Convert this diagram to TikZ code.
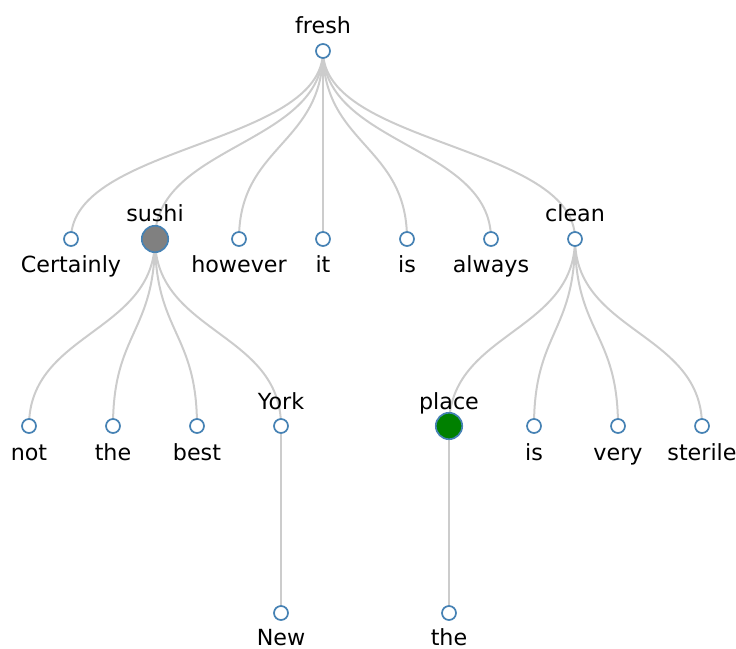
\documentclass[tikz,border=0pt]{standalone}
\usepackage{fontspec}
\setmainfont{DejaVu Sans}
\usetikzlibrary{backgrounds}

\definecolor{steel}{HTML}{4682B4}
\definecolor{linkgray}{HTML}{CCCCCC}
\definecolor{sushigray}{HTML}{808080}
\definecolor{placegreen}{HTML}{008000}

\tikzset{
  dot/.style={circle,draw=steel,fill=white,line width=0.042cm,minimum size=0.35cm,inner sep=0pt},
  bigdot/.style={dot,minimum size=0.66cm},
  word/.style={anchor=base,inner sep=0pt,font=\fontsize{15.8}{18}\selectfont},
  link/.style={draw=linkgray,line width=0.05cm},
}

\begin{document}
\begin{tikzpicture}[x=0.025cm,y=-0.025cm]
        \useasboundingbox (0,0) rectangle (736,649);
        % root
        \node[dot] (fresh) at (323,51) {};
        \node[word] (w-fresh) at (323,34) {fresh};
        % first level
        \node[dot] (certainly) at (71,239) {};
        \node[bigdot,fill=sushigray] (sushi) at (155,239) {};
        \node[dot] (however) at (239,239) {};
        \node[dot] (it) at (323,239) {};
        \node[dot] (is1) at (407,239) {};
        \node[dot] (always) at (491,239) {};
        \node[dot] (clean) at (575,239) {};
        \node[word] (w-certainly) at (71,273) {Certainly};
        \node[word] (w-sushi) at (155,222) {sushi};
        \node[word] (w-however) at (239,273) {however};
        \node[word] (w-it) at (323,273) {it};
        \node[word] (w-is1) at (407,273) {is};
        \node[word] (w-always) at (491,273) {always};
        \node[word] (w-clean) at (575,222) {clean};
        % second level
        \node[dot] (not) at (29,426) {};
        \node[dot] (the1) at (113,426) {};
        \node[dot] (best) at (197,426) {};
        \node[dot] (york) at (281,426) {};
        \node[bigdot,fill=placegreen] (place) at (449,426) {};
        \node[dot] (is2) at (534,426) {};
        \node[dot] (very) at (618,426) {};
        \node[dot] (sterile) at (702,426) {};
        \node[word] (w-not) at (29,460) {not};
        \node[word] (w-the1) at (113,460) {the};
        \node[word] (w-best) at (197,460) {best};
        \node[word] (w-york) at (281,409) {York};
        \node[word] (w-place) at (449,409) {place};
        \node[word] (w-is2) at (534,460) {is};
        \node[word] (w-very) at (618,460) {very};
        \node[word] (w-sterile) at (702,460) {sterile};
        % third level
        \node[dot] (new) at (281,613) {};
        \node[dot] (the2) at (449,613) {};
        \node[word] (w-new) at (281,645) {New};
        \node[word] (w-the2) at (449,645) {the};
        % links
        \begin{scope}[on background layer]
            \foreach \p/\c in {fresh/certainly,fresh/sushi,fresh/however,fresh/it,fresh/is1,fresh/always,fresh/clean,
                               sushi/not,sushi/the1,sushi/best,sushi/york,
                               clean/place,clean/is2,clean/very,clean/sterile,
                               york/new,place/the2}
                \draw[link] (\p.center) .. controls +(0,94) and +(0,-94) .. (\c.center);
        \end{scope}
    \end{tikzpicture}
\end{document}
